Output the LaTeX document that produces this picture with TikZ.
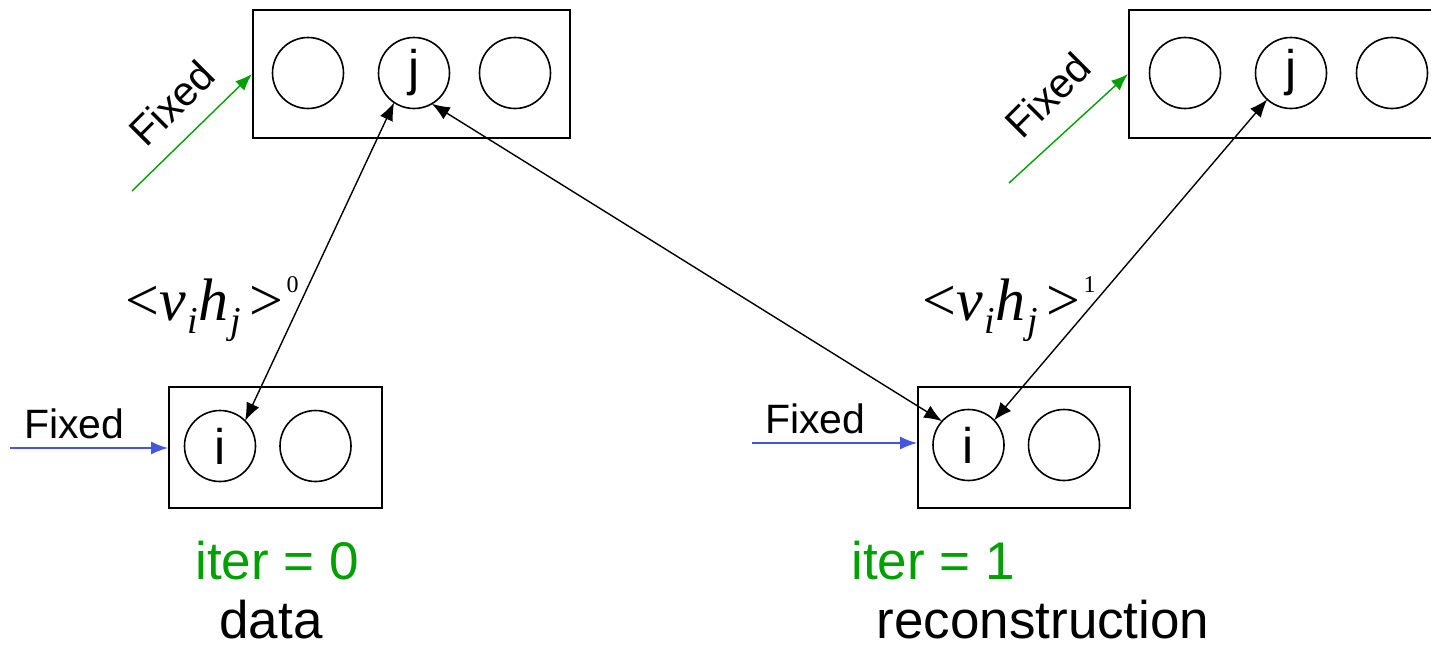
\documentclass[tikz,border=0pt]{standalone}
\usepackage{fontspec}
\setmainfont{Liberation Sans}
\newfontfamily\timesfont{Liberation Serif}
\usetikzlibrary{positioning,arrows.meta}

\definecolor{fixgreen}{RGB}{0,160,0}
\definecolor{fixblue}{RGB}{70,85,220}

% <v_i h_j>^k in a Times like face
\newcommand{\corrlabel}[1]{{\timesfont\fontsize{60}{60}\selectfont
  <\textit{v}\hspace{2pt}\raisebox{-13pt}{\fontsize{38}{38}\selectfont\textit{i}}\textit{h}\hspace{2pt}\raisebox{-13pt}{\fontsize{38}{38}\selectfont\textit{j}}\hspace{9pt}>\hspace{3pt}\raisebox{28pt}{\fontsize{24}{24}\selectfont#1}}}

\tikzset{
  unit/.style={circle, draw, line width=1.6pt, minimum size=71pt, inner sep=0pt, outer sep=0pt,
    font=\fontsize{50}{50}\selectfont},
  layer/.style={draw, line width=2pt, inner sep=0pt},
  pair/.style={{Latex[length=18pt,width=14pt]}-{Latex[length=18pt,width=14pt]}, line width=1.4pt},
  fixedin/.style={-{Latex[length=17pt,width=13pt]}, line width=1.4pt, draw=#1},
  bigtext/.style={font=\fontsize{53}{53}\selectfont, inner sep=0pt},
  fixtext/.style={font=\fontsize{41}{41}\selectfont, inner sep=0pt}
}

\begin{document}
\begin{tikzpicture}[x=1pt, y=-1pt]
 \useasboundingbox (0,0) rectangle (1431,651);
 \clip (0,0) rectangle (1431,651);

 % layers
 \node[layer, minimum width=317pt, minimum height=128pt] (topL) at (411.5,74) {};
 \node[layer, minimum width=317pt, minimum height=128pt] (topR) at (1287.5,74) {};
 \node[layer, minimum width=213pt, minimum height=121pt] (botL) at (275.5,447.5) {};
 \node[layer, minimum width=212pt, minimum height=121pt] (botR) at (1024,447.5) {};

 % hidden units
 \foreach \x/\name/\txt in { 308/hL1/{}, 414/jL/j, 515/hL3/{} }
   \node[unit] (\name) at (\x,73) {\txt};
 \foreach \x/\name/\txt in { 1185/hR1/{}, 1291/jR/j, 1392/hR3/{} }
   \node[unit] (\name) at (\x,73) {\txt};

 % visible units
 \foreach \x/\name/\txt in { 220/iL/i, 315.5/vL2/{} }
   \node[unit] (\name) at (\x,446) {\txt};
 \foreach \x/\name/\txt in { 968.5/iR/i, 1064/vR2/{} }
   \node[unit] (\name) at (\x,445) {\txt};

 % clamped inputs
 \coordinate (gL) at (132,191);
 \coordinate (gR) at (1009,183);
 \coordinate (bL) at (10,448);
 \coordinate (bR) at (752,443);
 \draw[fixedin=fixgreen] (gL) -- (topL.west);
 \draw[fixedin=fixgreen] (gR) -- (topR.west);
 \draw[fixedin=fixblue] (bL) -- (bL -| botL.west);
 \draw[fixedin=fixblue] (bR) -- (bR -| botR.west);

 \node[fixtext, rotate=45] (fixL) at (172,103) {Fixed};
 \node[fixtext, rotate=45] (fixR) at (1048,95) {Fixed};
 \node[fixtext, anchor=base west] (fixBL) at (24,438) {Fixed};
 \node[fixtext, anchor=base west] (fixBR) at (765,433) {Fixed};

 % correlations
 \draw[pair] (jL.236) -- (iL.45);
 \draw[pair] (jL.300) -- (iR.138);
 \draw[pair] (jR.228) -- (iR.44);

 \node[anchor=base west, inner sep=0pt] (corr0) at (125,320) {\corrlabel{0}};
 \node[anchor=base west, inner sep=0pt] (corr1) at (922,320) {\corrlabel{1}};

 % captions
 \node[bigtext, text=fixgreen, anchor=base] (it0) at (277,579) {iter = 0};
 \node[bigtext, text=fixgreen, anchor=base] (it1) at (933,579) {iter = 1};
 \node[bigtext, anchor=base] (data) at (271,638) {data};
 \node[bigtext, anchor=base] (recon) at (1043,638) {reconstruction};

\end{tikzpicture}
\end{document}
